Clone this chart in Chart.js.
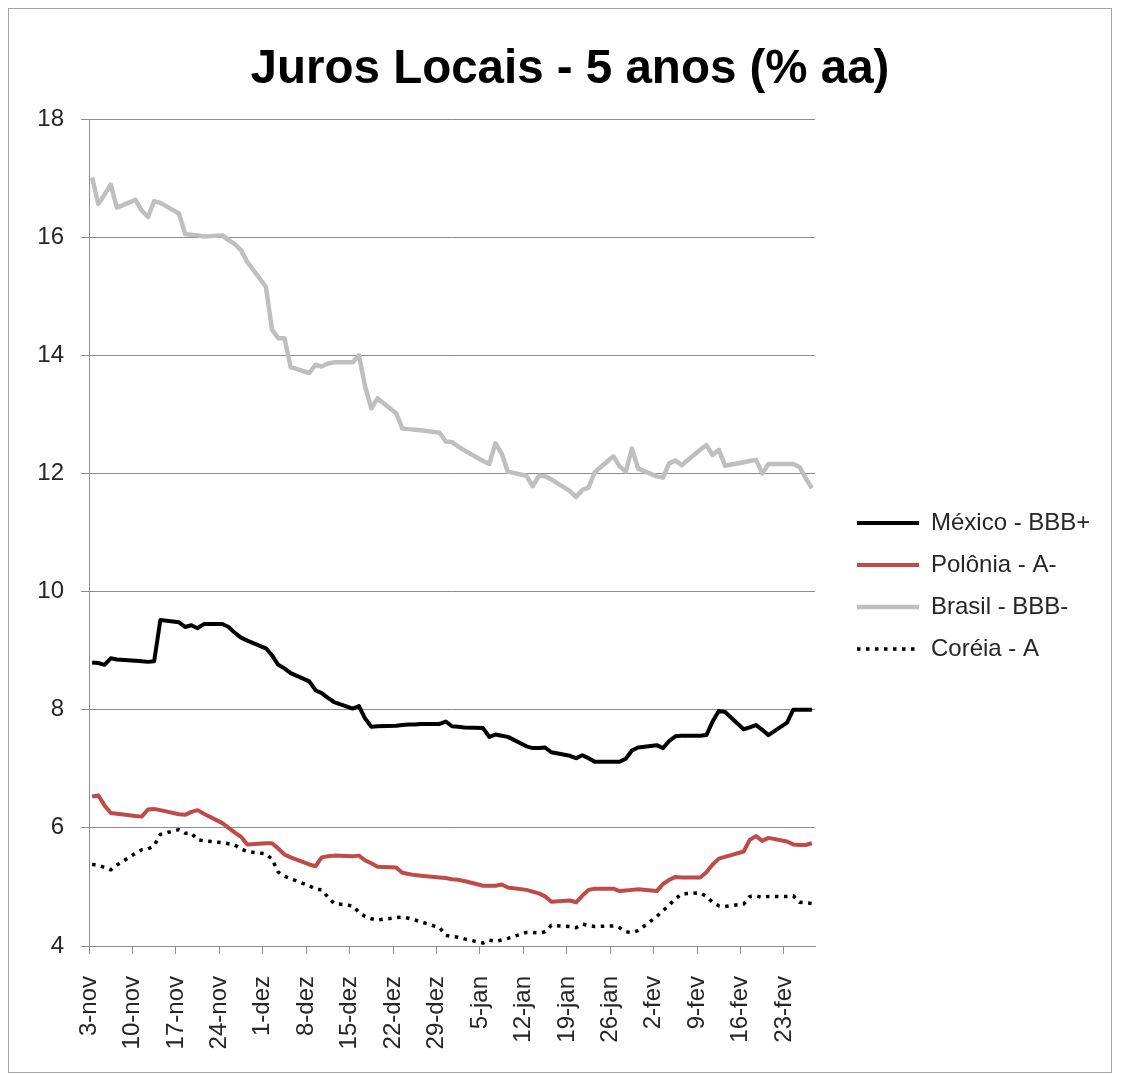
<!DOCTYPE html>
<html><head><meta charset="utf-8">
<script src="https://cdn.jsdelivr.net/npm/chart.js@4.4.1/dist/chart.umd.min.js"></script>
<style>
html,body{margin:0;padding:0;background:#fff;}
#wrap{position:relative;width:1121px;height:1074px;overflow:hidden;}
#frame{position:absolute;left:8px;top:8px;width:1104px;height:1065px;border:1px solid #a6a6a6;box-sizing:border-box;}
#c{position:absolute;left:0;top:0;}
</style></head><body>
<div id="wrap"><div id="frame"></div><canvas id="c" width="1121" height="1074"></canvas></div>
<script>
// Calendar: 3-nov-2008 .. 27-fev-2009 (daily date axis), data on business days only
const START_Y = 2008, START_M = 10, START_D = 3;
const N_DAYS = 117;
const monthsPt = ['jan','fev','mar','abr','mai','jun','jul','ago','set','out','nov','dez'];
const tickLabels = ['3-nov','10-nov','17-nov','24-nov','1-dez','8-dez','15-dez','22-dez','29-dez',
  '5-jan','12-jan','19-jan','26-jan','2-fev','9-fev','16-fev','23-fev'];

// Business-day values (Mon..Fri, 17 weeks)
const mexico = [
  8.80, 8.79, 8.76, 8.87, 8.85,
  8.83, 8.82, 8.81, 8.82, 9.52,
  9.48, 9.40, 9.43, 9.38, 9.45,
  9.45, 9.40, 9.30, 9.22, 9.17,
  9.04, 8.92, 8.76, 8.70, 8.62,
  8.48, 8.33, 8.28, 8.20, 8.13,
  8.02, 8.06, 7.85, 7.71, 7.72,
  7.73, 7.74, 7.75, 7.75, 7.76,
  7.76, 7.80, 7.72, 7.71, 7.70,
  7.69, 7.54, 7.58, 7.56, 7.54,
  7.38, 7.35, 7.35, 7.36, 7.28,
  7.22, 7.18, 7.23, 7.18, 7.12,
  7.12, 7.12, 7.17, 7.31, 7.36,
  7.40, 7.35, 7.47, 7.55, 7.56,
  7.56, 7.57, 7.80, 7.98, 7.96,
  7.67, 7.70, 7.74, 7.66, 7.57,
  7.78, 8.00, 8.00, 8.00, 8.00
];
const polonia = [
  6.53, 6.55, 6.38, 6.25, 6.24,
  6.20, 6.19, 6.31, 6.32, 6.30,
  6.23, 6.22, 6.27, 6.30, 6.24,
  6.08, 6.00, 5.92, 5.85, 5.72,
  5.74, 5.74, 5.65, 5.55, 5.50,
  5.38, 5.35, 5.50, 5.52, 5.53,
  5.52, 5.53, 5.45, 5.40, 5.34,
  5.33, 5.24, 5.22, 5.20, 5.19,
  5.16, 5.15, 5.13, 5.12, 5.10,
  5.02, 5.02, 5.02, 5.04, 4.99,
  4.95, 4.92, 4.89, 4.84, 4.75,
  4.77, 4.74, 4.85, 4.95, 4.97,
  4.97, 4.93, 4.94, 4.95, 4.96,
  4.93, 5.05, 5.12, 5.17, 5.16,
  5.16, 5.25, 5.38, 5.48, 5.51,
  5.60, 5.80, 5.86, 5.78, 5.83,
  5.77, 5.72, 5.71, 5.71, 5.74
];
const brasil = [
  17.01, 16.56, 16.72, 16.89, 16.50,
  16.63, 16.45, 16.34, 16.61, 16.58,
  16.40, 16.05, 16.04, 16.03, 16.01,
  16.03, 15.95, 15.88, 15.78, 15.58,
  15.16, 14.43, 14.29, 14.29, 13.80,
  13.70, 13.84, 13.81, 13.86, 13.88,
  13.88, 14.00, 13.47, 13.10, 13.27,
  13.02, 12.76, 12.75, 12.74, 12.73,
  12.69, 12.54, 12.53, 12.46, 12.39,
  12.21, 12.16, 12.51, 12.34, 12.03,
  11.96, 11.78, 11.96, 11.95, 11.90,
  11.70, 11.60, 11.72, 11.76, 12.02,
  12.29, 12.12, 12.03, 12.42, 12.08,
  11.95, 11.93, 12.17, 12.22, 12.14,
  12.40, 12.48, 12.31, 12.40, 12.13,
  12.19, 12.21, 12.23, 12.00, 12.16,
  12.16, 12.16, 12.11, 11.92, 11.75
];
const coreia = [
  5.38, 5.37, 5.33, 5.29, 5.37,
  5.57, 5.63, 5.64, 5.70, 5.89,
  5.97, 5.91, 5.91, 5.80, 5.78,
  5.75, 5.73, 5.71, 5.64, 5.60,
  5.56, 5.47, 5.25, 5.18, 5.14,
  5.02, 4.96, 4.95, 4.83, 4.72,
  4.68, 4.57, 4.50, 4.46, 4.44,
  4.48, 4.49, 4.47, 4.44, 4.41,
  4.31, 4.18, 4.16, 4.15, 4.12,
  4.05, 4.10, 4.08, 4.10, 4.13,
  4.23, 4.23, 4.22, 4.24, 4.35,
  4.33, 4.31, 4.37, 4.35, 4.33,
  4.34, 4.31, 4.24, 4.23, 4.26,
  4.50, 4.60, 4.69, 4.80, 4.88,
  4.90, 4.84, 4.74, 4.68, 4.67,
  4.71, 4.84, 4.85, 4.82, 4.84,
  4.84, 4.85, 4.74, 4.73, 4.72
];
const seriesNames = ['México - BBB+', 'Polônia - A-', 'Brasil - BBB-', 'Coréia - A'];

// build calendar categories
const dayLabels = [], weekday = [];
for (let i = 0; i < N_DAYS; i++) {
  const d = new Date(Date.UTC(START_Y, START_M, START_D + i));
  dayLabels.push(d.getUTCDate() + '-' + monthsPt[d.getUTCMonth()]);
  const w = d.getUTCDay();
  weekday.push(w >= 1 && w <= 5);
}
function onCalendar(vals) {
  const out = []; let k = 0;
  for (let i = 0; i < N_DAYS; i++) out.push(weekday[i] ? (k < vals.length ? vals[k++] : null) : null);
  return out;
}

const LEGEND_W = 306, LEG_DX = 24, LEG_DY = 49;
const legendTweak = {
  id: 'legendTweak',
  afterInit(chart) {
    const lg = chart.legend;
    const fit = lg.fit.bind(lg);
    lg.fit = function () { fit(); this.width = LEGEND_W; };
    const draw = lg.draw.bind(lg);
    lg.draw = function () { const ctx = this.ctx; ctx.save(); ctx.translate(LEG_DX, LEG_DY); draw(); ctx.restore(); };
  }
};

const FONT = "'Liberation Sans', Arial, sans-serif";
const GRID = '#8c8c8c';

new Chart(document.getElementById('c'), {
  type: 'line',
  data: {
    labels: dayLabels,
    datasets: [
      { label: seriesNames[0], data: onCalendar(mexico), borderColor: '#000000', backgroundColor: '#000000', borderWidth: 4 },
      { label: seriesNames[1], data: onCalendar(polonia), borderColor: '#BE4B48', backgroundColor: '#BE4B48', borderWidth: 4 },
      { label: seriesNames[2], data: onCalendar(brasil), borderColor: '#BFBFBF', backgroundColor: '#BFBFBF', borderWidth: 4.5 },
      { label: seriesNames[3], data: onCalendar(coreia), borderColor: '#000000', backgroundColor: '#000000', borderWidth: 3.5,
        borderDash: [3.5, 5.5], borderCapStyle: 'butt' }
    ]
  },
  options: {
    responsive: false,
    animation: false,
    spanGaps: true,
    elements: { line: { tension: 0, borderJoinStyle: 'round' }, point: { radius: 0, hoverRadius: 0 } },
    layout: { padding: { left: 19, right: 0, top: 0, bottom: 0 } },
    plugins: {
      title: { display: true, text: 'Juros Locais - 5 anos (% aa)', color: '#000',
        font: { family: FONT, size: 47.5, weight: 'bold' }, padding: { top: 41, bottom: 21 } },
      legend: { position: 'right', align: 'center',
        labels: { usePointStyle: true, pointStyle: 'line', pointStyleWidth: 62, boxHeight: 24, padding: 18,
          color: '#262626', font: { family: FONT, size: 24 },
          generateLabels: (chart) => {
            const items = Chart.defaults.plugins.legend.labels.generateLabels(chart);
            items.forEach(it => {
              const ds = chart.data.datasets[it.datasetIndex];
              it.lineDash = ds.borderDash || [];
              it.lineCap = ds.borderCapStyle || 'butt';
              it.lineWidth = ds.borderWidth;
              it.strokeStyle = ds.borderColor;
              it.fillStyle = ds.borderColor;
              it.pointStyle = 'line';
            });
            return items;
          } } },
      tooltip: { enabled: false }
    },
    scales: {
      x: {
        type: 'category', offset: true,
        grid: { display: true, drawOnChartArea: false, drawTicks: true, tickLength: 8, offset: true,
          tickColor: c => (c.index % 7 === 0 && c.index < N_DAYS) ? GRID : 'rgba(0,0,0,0)' },
        border: { display: true, color: GRID, width: 1 },
        ticks: { autoSkip: false, minRotation: 90, maxRotation: 90, padding: 22, labelOffset: -3,
          color: '#262626', font: { family: FONT, size: 24 },
          callback: (v, i) => (i % 7 === 0) ? tickLabels[i / 7] : '' },
        afterFit: a => { a.height = 128; }
      },
      y: {
        min: 4, max: 18,
        grid: { color: GRID, lineWidth: 1, tickLength: 8, drawTicks: true },
        border: { display: true, color: GRID, width: 1 },
        ticks: { stepSize: 2, padding: 17, color: '#262626', font: { family: FONT, size: 24 } },
        afterFit: a => { a.width = 70; }
      }
    }
  },
  plugins: [legendTweak]
});
</script>
</body></html>
